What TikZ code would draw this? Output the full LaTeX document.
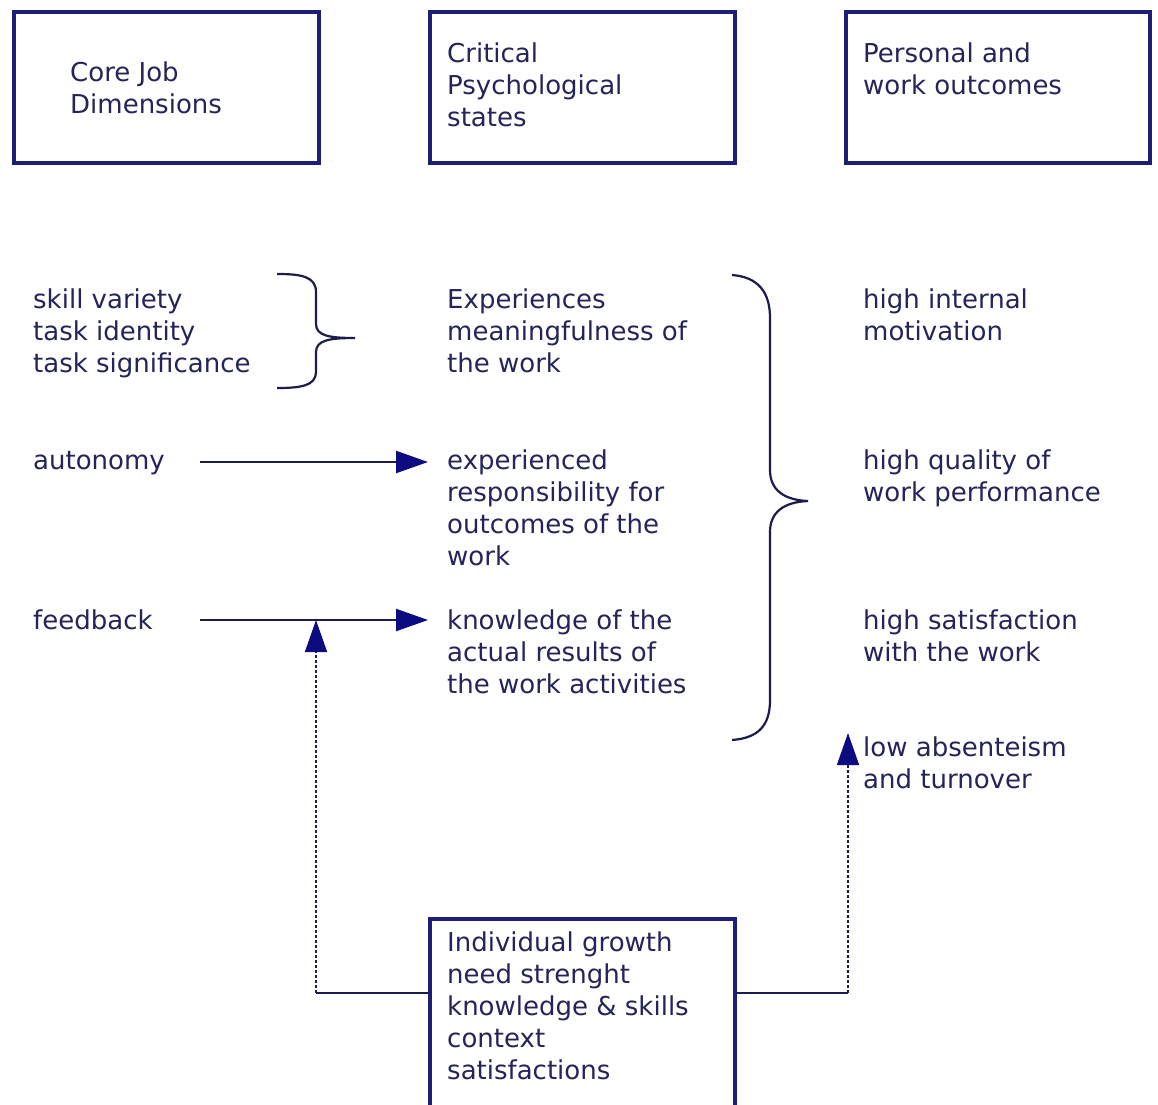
\documentclass[tikz,border=0pt]{standalone}
\usepackage{fontspec}
\setmainfont{DejaVu Sans}
\usetikzlibrary{arrows.meta}
\definecolor{boxblue}{HTML}{1E1E78}
\definecolor{inkblue}{HTML}{24245A}
\definecolor{wireblue}{HTML}{1C1C4C}
\definecolor{tipblue}{HTML}{0C0C80}
\begin{document}
\begin{tikzpicture}[x=1pt,y=-1pt,
  % text blocks are placed by the baseline of their last line
  txt/.style={anchor=base west, inner sep=0pt, align=left, text=inkblue,
              font=\fontsize{26}{32}\selectfont},
  panel/.style={draw=boxblue, line width=4pt, anchor=north west, inner sep=0pt},
  wire/.style={draw=wireblue, line width=2.2pt},
  dotwire/.style={draw=wireblue, line width=1.5pt, dash pattern=on 3pt off 2pt},
  headtip/.style={-{Triangle[length=32pt,width=22pt,color=tipblue]}},
  brace/.style={draw=wireblue, line width=2.2pt}
]
\useasboundingbox (0,0) rectangle (1158,1104);
\fill[white] (0,0) rectangle (1158,1104);

% column header boxes
\node[panel, minimum width=305pt, minimum height=151pt] (corebox) at (12,10) {};
\node[panel, minimum width=305pt, minimum height=151pt] (critbox) at (428,10) {};
\node[panel, minimum width=304pt, minimum height=151pt] (persbox) at (844,10) {};
\node[txt] (hcore) at (70,113) {Core Job\\Dimensions};
\node[txt] (hcrit) at (447,126) {Critical\\Psychological\\states};
\node[txt] (hpers) at (863,94) {Personal and\\work outcomes};

% core job dimensions
\node[txt] (skill) at (33,372) {skill variety\\task identity\\task significance};
\node[txt] (auto) at (33,469) {autonomy};
\node[txt] (feed) at (33,629) {feedback};

% psychological states
\node[txt] (mean) at (447,372) {Experiences\\meaningfulness of\\the work};
\node[txt] (resp) at (447,565) {experienced\\responsibility for\\outcomes of the\\work};
\node[txt] (know) at (447,693) {knowledge of the\\actual results of\\the work activities};

% outcomes
\node[txt] (motiv) at (863,340) {high internal\\motivation};
\node[txt] (qual) at (863,501) {high quality of\\work performance};
\node[txt] (satis) at (863,661) {high satisfaction\\with the work};
\node[txt] (absent) at (863,788) {low absenteism\\and turnover};

% moderators
\node[panel, minimum width=305pt, minimum height=200pt] (growbox) at (428,917) {};
\node[txt] (grow) at (447,1079) {Individual growth\\need strenght\\knowledge \& skills\\context\\satisfactions};

% small brace joining the first three dimensions
\draw[brace] (277,274) .. controls (300,274) and (316,276) .. (316,292)
  -- (316,324) .. controls (316,336) and (330,338) .. (355,338)
  .. controls (330,338) and (316,340) .. (316,352)
  -- (316,372) .. controls (316,386) and (300,388) .. (277,388);

% large brace joining the states to the outcomes
\draw[brace] (732,275) .. controls (758,277) and (770,292) .. (770,318)
  -- (770,470) .. controls (770,490) and (784,500) .. (808,501)
  .. controls (784,502) and (770,512) .. (770,532)
  -- (770,700) .. controls (770,726) and (758,738) .. (732,740);

% direct links
\coordinate (autoOut) at (200,462);
\coordinate (autoIn) at (428,462);
\coordinate (feedOut) at (200,620);
\coordinate (feedIn) at (428,620);
\draw[wire, headtip] (autoOut) -- (autoIn);
\draw[wire, headtip] (feedOut) -- (feedIn);

% moderator links
\coordinate (leftCorner) at (316,993);
\coordinate (leftTip) at (316,620);
\coordinate (rightCorner) at (848,993);
\coordinate (rightTip) at (848,733);
\draw[wire, line width=1.8pt] (growbox.west |- leftCorner) -- (leftCorner);
\draw[dotwire, headtip] (leftCorner) -- (leftTip);
\draw[wire, line width=1.8pt] (growbox.east |- rightCorner) -- (rightCorner);
\draw[dotwire, headtip] (rightCorner) -- (rightTip);
\end{tikzpicture}
\end{document}
